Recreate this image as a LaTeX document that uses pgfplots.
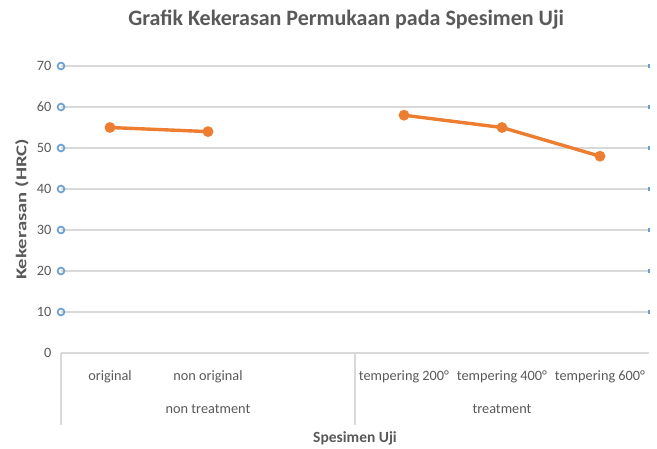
\documentclass[border=0pt]{standalone}
\usepackage{fontspec}
\setmainfont{Carlito}
\usepackage{pgfplots}
\pgfplotsset{compat=1.18}
\definecolor{txt}{HTML}{595959}
\definecolor{grd}{HTML}{D9D9D9}
\definecolor{org}{HTML}{ED7D31}
\definecolor{blu}{HTML}{6A9FD2}
\begin{document}
\begin{tikzpicture}[x=1pt,y=1pt]
\path[use as bounding box] (-61,-95) rectangle (596,353);
\begin{axis}[
  at={(0,0)}, anchor=south west,
  scale only axis, width=588pt, height=287pt,
  xmin=-0.5, xmax=5.5, ymin=0, ymax=70,
  ytick={0,10,...,70},
  xtick={0,1,2,3,4,5},
  xticklabels={original,non original,,tempering 200°,tempering 400°,tempering 600°},
  axis line style={draw=none},
  major tick length=0pt,
  ymajorgrids, grid style={grd, line width=1.2pt},
  /pgf/number format/assume math mode=true,
  tick label style={font=\fontsize{14.3}{15}\selectfont, text=txt},
  yticklabel style={xshift=-6pt},
  xticklabel style={anchor=center, yshift=-24pt},
  every axis y label/.style={at={(axis description cs:0,0.5)}, rotate=90, xscale=1.38, anchor=center, yshift=39pt, font=\fontsize{15}{16}\selectfont\bfseries, text=txt},
  every axis x label/.style={at={(axis description cs:0.5,0)}, anchor=center, yshift=-85pt, font=\fontsize{15.5}{16}\selectfont\bfseries, text=txt},
  xlabel={Spesimen Uji},
  ylabel={Kekerasan (HRC)},
  clip=false,
]
\addplot[org, line width=3.4pt, mark=*, mark size=3.6pt] coordinates {(0,55) (1,54)};
\addplot[org, line width=3.4pt, mark=*, mark size=3.6pt] coordinates {(3,58) (4,55) (5,48)};
\addplot[only marks, blu, mark=o, mark size=3.4pt, line width=1.7pt] coordinates {(-0.5,10) (-0.5,20) (-0.5,30) (-0.5,40) (-0.5,50) (-0.5,60) (-0.5,70)};
\addplot[only marks, blu, mark=|, mark size=2.4pt, line width=1.2pt] coordinates {(5.5,10) (5.5,20) (5.5,30) (5.5,40) (5.5,50) (5.5,60) (5.5,70)};
\draw[grd, line width=1.2pt] (axis cs:-0.5,0) -- ([yshift=-72pt]axis cs:-0.5,0);
\draw[grd, line width=1.2pt] (axis cs:2.5,0) -- ([yshift=-72pt]axis cs:2.5,0);
\node[font=\fontsize{14.3}{15}\selectfont, text=txt] at ([yshift=-56pt]axis cs:1,0) {non treatment};
\node[font=\fontsize{14.3}{15}\selectfont, text=txt] at ([yshift=-56pt]axis cs:4,0) {treatment};
\node[font=\fontsize{22}{24}\selectfont\bfseries, text=txt] at ([yshift=46pt]axis description cs:0.485,1) {Grafik Kekerasan Permukaan pada Spesimen Uji};
\end{axis}
\end{tikzpicture}
\end{document}
